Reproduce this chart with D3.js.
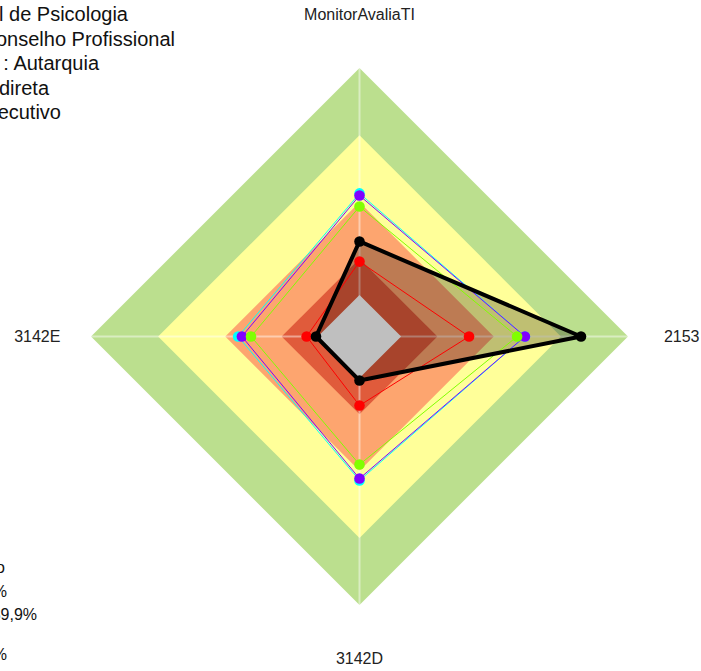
<!DOCTYPE html>
<html>
<head>
<meta charset="utf-8">
<script src="https://cdn.jsdelivr.net/npm/d3@7"></script>
<style>
  body { margin: 0; background: #fff; }
  svg { display: block; font-family: "Liberation Sans", Arial, sans-serif; }
</style>
</head>
<body>
<svg id="chart" width="701" height="671"></svg>
<script>
// axes, clockwise from the top
var axes = ['MonitorAvaliaTI', '2153', '3142D', '3142E'];

// background bands (upper limit of each band) and their colours
var bandLimits = [1, 0.75, 0.5, 0.29, 0.155];
var bandColors = ['#bbdf8e', '#ffff99', '#fda56f', '#e05b3b', '#ffffff'];

// series values, same order as axes
var cyanVals   = [0.533, 0.616, 0.536, 0.452];
var purpleVals = [0.525, 0.616, 0.529, 0.438];
var limeVals   = [0.484, 0.587, 0.477, 0.404];
var redVals    = [0.279, 0.408, 0.257, 0.197];
var blackVals  = [0.354, 0.825, 0.164, 0.162];

var series = [
  {name: 'cyan',   color: '#00ffff', values: cyanVals},
  {name: 'purple', color: '#8000ff', values: purpleVals},
  {name: 'lime',   color: '#80ff00', values: limeVals},
  {name: 'red',    color: '#ff0000', values: redVals},
  {name: 'black',  color: '#000000', values: blackVals, fill: true}
];

// info text (cut off at the left edge)
var infoLines = ['Conselho Federal de Psicologia', 'Segmento: Conselho Profissional',
                 'Natureza Jurídica : Autarquia', 'Administração Indireta', 'Poder Executivo'];
var legendLines = ['Faixas de estágio', 'Inexpressivo: 0 a 14,9%',
                   'Iniciando: 15 a 39,9%', 'Aprimorado: 70 a 100%'];

var cx = 359.5, cy = 336.5, R = 268.5;
var svg = d3.select('#chart');
var r = d3.scaleLinear().domain([0, 1]).range([0, R]);
var angle = d3.scalePoint().domain(axes.concat(['_end'])).range([0, 2 * Math.PI]);

var g = svg.append('g').attr('transform', 'translate(' + cx + ',' + cy + ')');

var radial = d3.lineRadial()
    .angle(function(d, i) { return angle(axes[i]); })
    .radius(function(d) { return r(d); })
    .curve(d3.curveLinearClosed);

// bands
g.selectAll('path.band')
    .data(bandLimits)
    .enter().append('path')
    .attr('class', 'band')
    .attr('d', function(v) { return radial(axes.map(function() { return v; })); })
    .attr('fill', function(v, i) { return bandColors[i]; });

// axis lines
g.selectAll('line.axis')
    .data(axes)
    .enter().append('line')
    .attr('class', 'axis')
    .attr('x1', 0).attr('y1', 0)
    .attr('x2', function(d) { return r(1) * Math.sin(angle(d)); })
    .attr('y2', function(d) { return -r(1) * Math.cos(angle(d)); })
    .attr('stroke', '#ffffff')
    .attr('stroke-opacity', 0.45)
    .attr('stroke-width', 2);

// series fill (only black)
g.selectAll('path.fill')
    .data(series.filter(function(s) { return s.fill; }))
    .enter().append('path')
    .attr('class', 'fill')
    .attr('d', function(s) { return radial(s.values); })
    .attr('fill', '#000')
    .attr('fill-opacity', 0.25);

// series lines and dots
var sg = g.selectAll('g.series')
    .data(series)
    .enter().append('g')
    .attr('class', 'series');

sg.append('path')
    .attr('d', function(s) { return radial(s.values); })
    .attr('fill', 'none')
    .attr('stroke', function(s) { return s.color; })
    .attr('stroke-width', function(s) { return s.fill ? 4 : 1; })
    .attr('stroke-linejoin', 'round');

sg.selectAll('circle')
    .data(function(s) { return s.values.map(function(v, i) { return {v: v, i: i, color: s.color}; }); })
    .enter().append('circle')
    .attr('cx', function(d) { return r(d.v) * Math.sin(angle(axes[d.i])); })
    .attr('cy', function(d) { return -r(d.v) * Math.cos(angle(axes[d.i])); })
    .attr('r', 5.3)
    .attr('fill', function(d) { return d.color; });

// axis labels
g.selectAll('text.label')
    .data(axes)
    .enter().append('text')
    .attr('class', 'label')
    .attr('x', function(d) { return r(1.2) * Math.sin(angle(d)); })
    .attr('y', function(d) { return -r(1.2) * Math.cos(angle(d)); })
    .attr('text-anchor', 'middle')
    .attr('dominant-baseline', 'central')
    .attr('font-size', 16)
    .attr('fill', '#222')
    .text(function(d) { return d; });

// info text top-left
var infoEnds = [128, 175, 99, 49, 61];
svg.selectAll('text.info')
    .data(infoLines)
    .enter().append('text')
    .attr('class', 'info')
    .attr('x', function(d, i) { return infoEnds[i]; })
    .attr('y', function(d, i) { return 21 + i * 24.6; })
    .attr('text-anchor', 'end')
    .attr('font-size', 20)
    .attr('fill', '#111')
    .text(function(d) { return d; });

// legend bottom-left
var legEnds = [5, 7, 37, 7];
var legY = [573, 597, 620, 660];
svg.selectAll('text.leg')
    .data(legendLines)
    .enter().append('text')
    .attr('class', 'leg')
    .attr('x', function(d, i) { return legEnds[i]; })
    .attr('y', function(d, i) { return legY[i]; })
    .attr('text-anchor', 'end')
    .attr('font-size', 16)
    .attr('fill', '#111')
    .text(function(d) { return d; });
</script>
</body>
</html>
